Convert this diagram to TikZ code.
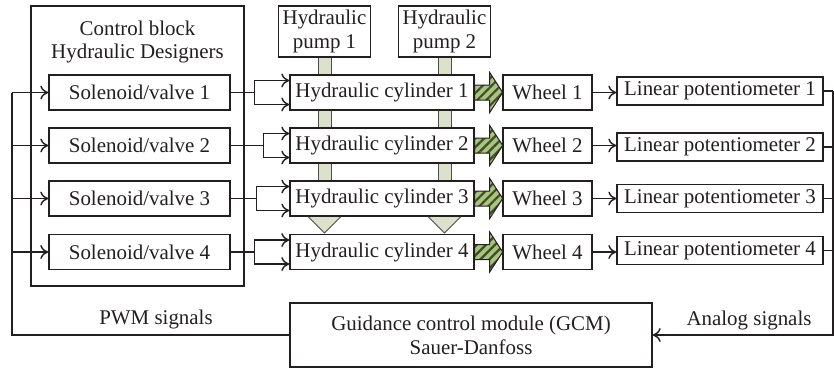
\documentclass[tikz,border=0pt]{standalone}
\usepackage{fontspec}
\setmainfont{Liberation Serif}
\usetikzlibrary{arrows.meta,patterns.meta}
\definecolor{linecol}{HTML}{231F20}
\definecolor{pipefill}{HTML}{DCE1CB}
\definecolor{arrowfill}{HTML}{A9C47B}
\definecolor{stripecol}{HTML}{3F4B2B}
\tikzset{
  box/.style={draw=linecol, fill=white, inner sep=0pt, minimum height=17.5bp},
  valvebox/.style={box, minimum width=90.5bp},
  cylbox/.style={box, minimum width=92bp},
  wheelbox/.style={box, minimum width=44.5bp},
  potbox/.style={box, minimum width=103bp, minimum height=14bp},
  pumpbox/.style={box, minimum width=46bp, minimum height=25.5bp, align=center},
  pipe/.style={fill=pipefill, draw=linecol!80, line width=0.5pt},
  fatarrow/.style={draw=linecol, line width=0.5pt, preaction={fill=arrowfill},
    pattern={Lines[angle=45,distance=3.2pt,line width=1.1pt]}, pattern color=stripecol}
}
\begin{document}
\begin{tikzpicture}[x=0.5bp,y=-0.5bp,
    font=\fontsize{10.5}{12}\selectfont,
    line width=0.7pt, color=linecol,
    >={To[length=4pt,width=7pt]}]
  \useasboundingbox (0,0) rectangle (834,370);

  % pipes from the pumps
  \foreach \px in {318,438} {
    \foreach \ya/\yb in {57/75,110/128,163/181}
      \filldraw[pipe] (\px,\ya) rectangle (\px+13,\yb);
    \filldraw[pipe] (\px-10.5,216) -- (\px+6.5,233) -- (\px+23.5,216) -- cycle;
  }

  % blocks
  \node[box, minimum width=106.5bp, minimum height=140bp] (ctrl) at (137.5,146) {};
  \node[align=center] (ctrltitle) at (137.5,42) {Control block\\Hydraulic Designers};
  \node[pumpbox] (pump1) at (324.5,31.5) {Hydraulic\\pump 1};
  \node[pumpbox] (pump2) at (444.5,31.5) {Hydraulic\\pump 2};
  \foreach \i/\y/\py in {1/92.5/91,2/145.5/147,3/198.5/198.5,4/252/250.5} {
    \node[valvebox] (sol\i) at (139.5,\y) {Solenoid/valve \i};
    \node[cylbox] (cyl\i) at (382,\y) {Hydraulic cylinder \i};
    \node[wheelbox] (wheel\i) at (547.5,\y) {Wheel \i};
    \node[potbox] (pot\i) at (720,\py) {Linear potentiometer \i};
  }
  \node[box, minimum width=181bp, minimum height=32bp, align=center] (gcm) at (471,335)
    {Guidance control module (GCM)\\Sauer-Danfoss};
  \node (pwmlabel) at (156,319) {PWM signals};
  \node (analabel) at (749,320) {Analog signals};

  % wheel drive
  \foreach \i in {1,...,4}
    \path[fatarrow] (cyl\i.east) -- ++(0,-7.5) -- ++(15,0) -- ++(0,-12.5) -- ++(13,20)
      -- ++(-13,20) -- ++(0,-12.5) -- ++(-15,0) -- cycle;

  % signals
  \coordinate (pwm) at (12,92.5);
  \coordinate (ana) at (833,91);
  \draw (gcm.west) -| (pwm);
  \draw[->] (ana) |- (gcm.east);
  \foreach \i/\jx in {1/254,2/263,3/256,4/254} {
    \path (sol\i.east) ++(\jx-230,0) coordinate (j\i);
    \draw[->] (pwm |- sol\i.west) -- (sol\i.west);
    \draw (sol\i.east) -- (j\i);
    \draw[->] (j\i) |- ([yshift=6bp]cyl\i.west);
    \draw[->] (j\i) |- ([yshift=-6bp]cyl\i.west);
    \draw[->] (wheel\i.east) -- (wheel\i.east -| pot\i.west);
    \draw (pot\i.east) -- (pot\i.east -| ana);
  }
\end{tikzpicture}
\end{document}
